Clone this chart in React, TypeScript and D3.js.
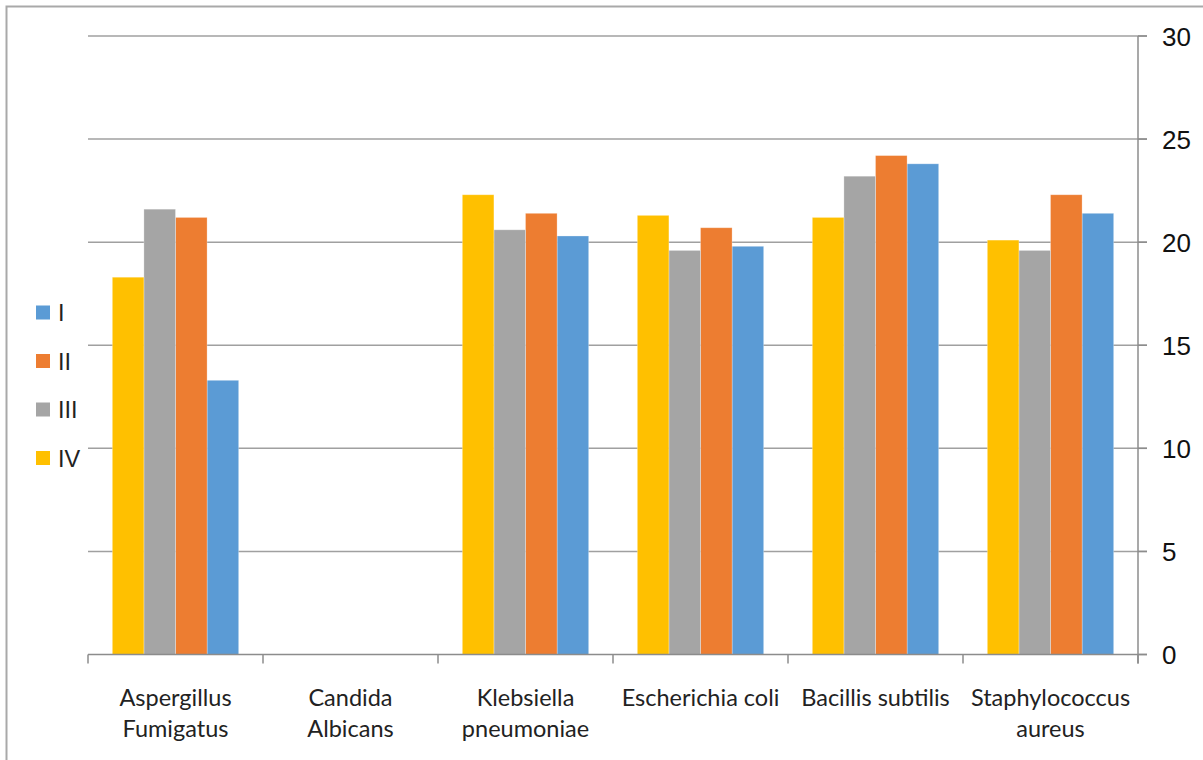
import React from "react";
import * as d3 from "d3";

// Inhibition zones per organism, one array per series
const categories = [
  "Aspergillus Fumigatus",
  "Candida Albicans",
  "Klebsiella pneumoniae",
  "Escherichia coli",
  "Bacillis subtilis",
  "Staphylococcus aureus",
];
const categoryLines = [
  ["Aspergillus", "Fumigatus"],
  ["Candida", "Albicans"],
  ["Klebsiella", "pneumoniae"],
  ["Escherichia coli"],
  ["Bacillis subtilis"],
  ["Staphylococcus", "aureus"],
];
const seriesI = [13.3, null, 20.3, 19.8, 23.8, 21.4];
const seriesII = [21.2, null, 21.4, 20.7, 24.2, 22.3];
const seriesIII = [21.6, null, 20.6, 19.6, 23.2, 19.6];
const seriesIV = [18.3, null, 22.3, 21.3, 21.2, 20.1];
const yTicks = [0, 5, 10, 15, 20, 25, 30];

const seriesNames = ["I", "II", "III", "IV"];
const seriesValues = [seriesI, seriesII, seriesIII, seriesIV];
const seriesColors = ["#5B9BD5", "#ED7D31", "#A5A5A5", "#FFC000"];
// bars are drawn left to right in reverse series order
const drawOrder = ["IV", "III", "II", "I"];

const W = 1203;
const H = 760;
const plot = { left: 88, right: 1138, top: 36, bottom: 654.5 };

export default function App() {
  const x = d3
    .scaleBand<string>()
    .domain(categories)
    .range([plot.left, plot.right])
    .padding(0);
  const bw = x.bandwidth();
  const gap = bw * 0.139;
  const xs = d3.scaleBand<string>().domain(drawOrder).range([gap, bw - gap]).padding(0);
  const y = d3.scaleLinear().domain([0, 30]).range([plot.bottom, plot.top]);

  const tickXs = categories.map((c) => x(c)!).concat([plot.right]);

  return (
    <svg
      width={W}
      height={H}
      style={{ position: "absolute", left: 0, top: 0, display: "block", background: "#fff" }}
    >
      <rect x={0} y={0} width={W} height={H} fill="#fff" />
      {/* chart frame */}
      <rect x={6.5} y={6.5} width={W + 50} height={H + 50} fill="none" stroke="#A9A9A9" strokeWidth={2} />

      {/* gridlines */}
      {yTicks.filter((t) => t > 0).map((t) => (
        <line
          key={"g" + t}
          x1={plot.left}
          x2={plot.right + 9}
          y1={y(t)}
          y2={y(t)}
          stroke="#A0A0A0"
          strokeWidth={1.5}
        />
      ))}

      {/* bars */}
      {seriesNames.map((s, si) =>
        categories.map((c, ci) => {
          const v = seriesValues[si][ci];
          if (v == null) return null;
          const bx = x(c)! + xs(s)!;
          return (
            <rect
              key={s + c}
              x={bx}
              y={y(v)}
              width={xs.bandwidth()}
              height={y(0) - y(v)}
              fill={seriesColors[si]}
              stroke="#ffffff"
              strokeOpacity={0.35}
              strokeWidth={0.8}
            />
          );
        })
      )}

      {/* x axis */}
      <line x1={plot.left} x2={plot.right + 9} y1={plot.bottom} y2={plot.bottom} stroke="#8C8C8C" strokeWidth={1.5} />
      {tickXs.map((tx, i) => (
        <line key={"xt" + i} x1={tx} x2={tx} y1={plot.bottom} y2={plot.bottom + 9} stroke="#8C8C8C" strokeWidth={1.5} />
      ))}

      {/* right value axis */}
      <line x1={plot.right} x2={plot.right} y1={plot.top} y2={plot.bottom + 9} stroke="#8C8C8C" strokeWidth={1.5} />
      {yTicks.map((t) => (
        <g key={"yt" + t}>
          <line x1={plot.right} x2={plot.right + 9} y1={y(t)} y2={y(t)} stroke="#8C8C8C" strokeWidth={1.5} />
          <text
            x={1162}
            y={y(t) + 9.5}
            fontFamily="'Liberation Sans', Arial, sans-serif"
            fontSize={26}
            fill="#111"
          >
            {t}
          </text>
        </g>
      ))}

      {/* category labels */}
      {categories.map((c, i) => (
        <text
          key={"cl" + c}
          x={x(c)! + bw / 2}
          textAnchor="middle"
          fontFamily="Lato, 'Open Sans', sans-serif"
          fontSize={23.5}
          fill="#222"
        >
          {categoryLines[i].map((ln, li) => (
            <tspan key={li} x={x(c)! + bw / 2} y={706 + li * 30.5}>
              {ln}
            </tspan>
          ))}
        </text>
      ))}

      {/* legend */}
      {seriesNames.map((s, i) => {
        const cy = 312.5 + i * 48.5;
        return (
          <g key={"lg" + s}>
            <rect x={36} y={cy - 7} width={14} height={14} fill={seriesColors[i]} />
            <text
              x={58}
              y={cy + 8.5}
              fontFamily="'Liberation Sans', Arial, sans-serif"
              fontSize={23.5}
              fill="#222"
            >
              {s}
            </text>
          </g>
        );
      })}
    </svg>
  );
}
